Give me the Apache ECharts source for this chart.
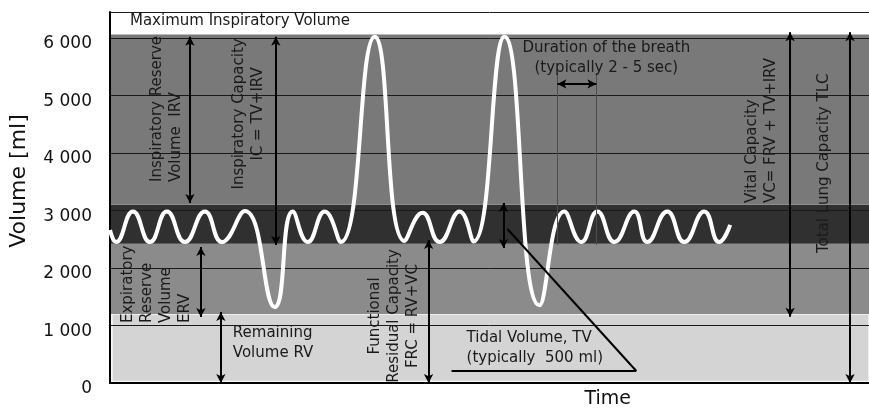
<!DOCTYPE html>
<html>
<head>
<meta charset="utf-8">
<script src="https://cdn.jsdelivr.net/npm/echarts@6/dist/echarts.min.js"></script>
<style>
    html, body { margin: 0; padding: 0; background: #fff; }
    #chart { width: 869px; height: 410px; }
</style>
</head>
<body>
<div id="chart"></div>
<script>
// breathing trace: time in arbitrary units, volume in ml
const traceTime = [0, 0.6, 2.3, 4.0, 5.7, 7.5, 9.5, 11.2, 13.5, 16.5, 18.3, 19.8, 21.5, 23.1, 26.5, 29.5, 31.3, 33.0, 35.0, 36.4, 39.5, 43.0, 45.5, 47.2, 48.8, 50.5, 52.5, 53.8, 55.8, 57.5, 59.5, 61.0, 62.1];
const traceVolume = [2660, 2450, 2980, 2450, 2980, 2450, 2980, 2450, 2990, 1320, 2980, 2450, 2980, 2450, 6020, 2470, 2960, 2450, 2980, 2460, 6020, 1350, 2980, 2450, 2980, 2450, 2980, 2450, 2980, 2450, 2980, 2450, 2750];

// volume bands (ml)
const bandFrom = [25, 1200, 2420, 3100];
const bandTo = [1200, 2420, 3100, 6060];

// y axis ticks
const yTickValues = [0, 1000, 2000, 3000, 4000, 5000, 6000];
const yTickLabels = ["0", "1 000", "2 000", "3 000", "4 000", "5 000", "6 000"];

// double arrows: IRV, IC, ERV, RV, FRC, TV, VC, TLC
const arrowTime = [8.0, 16.6, 9.1, 11.1, 31.9, 39.4, 68.1, 74.1];
const arrowTop = [6020, 6020, 2365, 1235, 2487, 3130, 6100, 6100];
const arrowBottom = [3130, 2400, 1148, 0, 0, 2348, 1150, 0];

// duration of one breath
const breathStart = 44.8;
const breathEnd = 48.7;
const breathLevel = 5200;
const guideTop = 5390;
const guideBottom = 2400;

// pointer triangle to the tidal volume note
const pointerTime = [39.8, 52.7, 34.2];
const pointerVolume = [2678, 209, 209];

// time arrow under the axis
const timeArrowFrom = 56.5;
const timeArrowTo = 64.8;
const timeArrowLevel = -330;

const notes = [
    { text: "Maximum Inspiratory Volume", t: 2.0, v: 6295, align: "left" },
    { text: "Duration of the breath\n(typically 2 - 5 sec)", t: 49.7, v: 5652, align: "center" },
    { text: "Inspiratory Reserve\nVolume  IRV", t: 5.7, v: 3495, align: "left", rotate: true },
    { text: "Inspiratory Capacity\nIC = TV+IRV", t: 13.9, v: 4678, align: "center", rotate: true },
    { text: "Expiratory\nReserve\nVolume\nERV", t: 4.7, v: 1043, align: "left", rotate: true },
    { text: "Remaining\nVolume RV", t: 12.3, v: 696, align: "left" },
    { text: "Functional\nResidual Capacity\nFRC = RV+VC", t: 28.4, v: 1165, align: "center", rotate: true },
    { text: "Tidal Volume, TV\n(typically  500 ml)", t: 35.7, v: 609, align: "left" },
    { text: "Vital Capacity\nVC= FRV + TV+IRV", t: 65.25, v: 3130, align: "left", rotate: true },
    { text: "Total Lung Capacity TLC", t: 71.5, v: 2260, align: "left", rotate: true },
];

const FONT = "DejaVu Sans";
const bandColors = ["#d4d4d4", "#8b8b8b", "#303030", "#797979"];

const chart = echarts.init(document.getElementById("chart"));

const bandAreas = bandFrom.map((from, i) => {
    const area = [
        { xAxis: i === 0 ? 0.2 : 0, yAxis: from, itemStyle: { color: bandColors[i] } },
        { xAxis: 76, yAxis: bandTo[i] },
    ];
    if (i === 0) {
        area[0].itemStyle.borderColor = "#f6f6f6";
        area[0].itemStyle.borderWidth = 1.5;
    }
    return area;
});

const arrowLines = arrowTime.map((t, i) => [
    { coord: [t, arrowTop[i]] },
    { coord: [t, arrowBottom[i]] },
]);
arrowLines.push([{ coord: [breathStart, breathLevel] }, { coord: [breathEnd, breathLevel] }]);

const plainLines = [
    [{ coord: [pointerTime[0], pointerVolume[0]] }, { coord: [pointerTime[1], pointerVolume[1]] }],
    [{ coord: [pointerTime[2], pointerVolume[2]] }, { coord: [pointerTime[1], pointerVolume[1]] }],
];

const guideLines = [
    [{ coord: [breathStart, guideTop] }, { coord: [breathStart, guideBottom] }],
    [{ coord: [breathEnd, guideTop] }, { coord: [breathEnd, guideBottom] }],
];

const option = {
    animation: false,
    grid: { left: 110, right: 0, top: 12, bottom: 27 },
    xAxis: [
        {
            type: "value", min: 0, max: 76, z: 1.5,
            axisLine: { show: true, onZero: false, lineStyle: { color: "#000", width: 2 } },
            axisTick: { show: false }, axisLabel: { show: false }, splitLine: { show: false },
        },
        {
            type: "value", min: 0, max: 76, position: "top", z: 1.5,
            axisLine: { show: true, lineStyle: { color: "#000", width: 2 } },
            axisTick: { show: false }, axisLabel: { show: false }, splitLine: { show: false },
        },
    ],
    yAxis: {
        type: "value", min: 0, max: 6450, interval: 1000, z: 1.5,
        axisLine: { show: true, lineStyle: { color: "#000", width: 2 } },
        axisTick: { show: false },
        splitLine: { show: true, lineStyle: { color: "#1a1a1a", width: 1 } },
        axisLabel: {
            color: "#111", fontSize: 17, fontFamily: FONT, margin: 18,
            verticalAlign: "top", lineHeight: 12,
            formatter: (val) => {
                const i = yTickValues.indexOf(val);
                return i >= 0 ? yTickLabels[i] : "";
            },
        },
    },
    series: [
        {
            name: "bands", type: "line", data: [], z: 0,
            markArea: { silent: true, data: bandAreas },
        },
        {
            name: "volume", type: "line", z: 3,
            data: traceTime.map((t, i) => [t, traceVolume[i]]),
            smooth: true, symbol: "none", clip: false,
            lineStyle: { color: "#fff", width: 4 },
        },
        {
            name: "guides", type: "line", data: [], clip: false,
            markLine: {
                silent: true, symbol: ["none", "none"], label: { show: false },
                lineStyle: { color: "#4d4d4d", width: 1, type: "solid" },
                data: guideLines,
            },
        },
        {
            name: "arrows", type: "line", data: [], clip: false,
            markLine: {
                silent: true, symbol: ["arrow", "arrow"], symbolSize: [7, 9],
                label: { show: false },
                lineStyle: { color: "#000", width: 2, type: "solid" },
                data: arrowLines,
            },
        },
        {
            name: "pointer", type: "line", data: [], clip: false,
            markLine: {
                silent: true, symbol: ["none", "none"], label: { show: false },
                lineStyle: { color: "#000", width: 2, type: "solid" },
                data: plainLines,
            },
        },
        {
            name: "time", type: "line", data: [], clip: false,
            markLine: {
                silent: true, symbol: ["none", "arrow"], symbolSize: [10, 11],
                label: { show: false },
                lineStyle: { color: "#000", width: 2, type: "solid" },
                data: [[{ coord: [timeArrowFrom, timeArrowLevel] }, { coord: [timeArrowTo, timeArrowLevel] }]],
            },
        },
    ],
};
chart.setOption(option);

function toPx(t, v) {
    return chart.convertToPixel({ gridIndex: 0 }, [t, v]);
}

const graphics = notes.map((n) => {
    const p = toPx(n.t, n.v);
    return {
        type: "text", x: p[0], y: p[1], z: 10,
        rotation: n.rotate ? Math.PI / 2 : 0,
        style: {
            text: n.text, fill: "#1a1a1a", fontSize: 15, fontFamily: FONT,
            align: n.align, verticalAlign: "middle", lineHeight: n.rotate ? 19 : 20,
        },
    };
});

const timePos = toPx(47.5, -278);
graphics.push({
    type: "text", x: timePos[0], y: timePos[1], z: 10,
    style: { text: "Time", fill: "#111", fontSize: 19, fontFamily: FONT, align: "left", verticalAlign: "middle" },
});
graphics.push({
    type: "text", x: 19, y: 181, z: 10, rotation: Math.PI / 2,
    style: { text: "Volume [ml]", fill: "#111", fontSize: 22, fontFamily: FONT, align: "center", verticalAlign: "middle" },
});
chart.setOption({ graphic: graphics });
</script>
</body>
</html>
